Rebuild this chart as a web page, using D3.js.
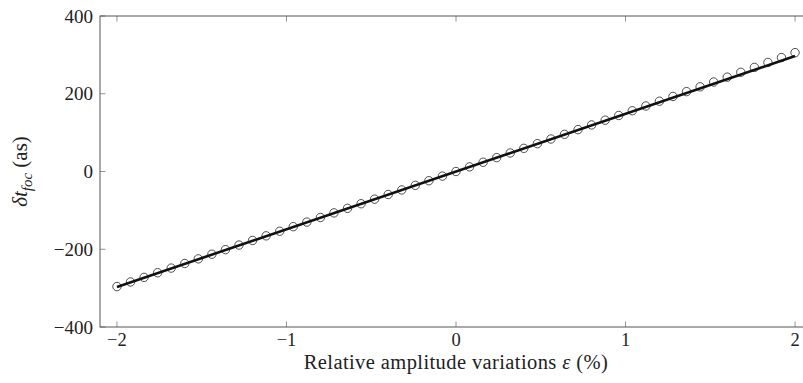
<!DOCTYPE html>
<html>
<head>
<meta charset="utf-8">
<script src="https://cdn.jsdelivr.net/npm/d3@7"></script>
<style>
  body { margin: 0; background: #fff; }
  text { font-family: "Liberation Serif", "DejaVu Serif", serif; fill: #222; }
</style>
</head>
<body>
<div id="chart"></div>
<script>
const rootWidth = 803;
const rootHeight = 383;
const margin = { top: 16, right: -9, bottom: 56, left: 100 };
const chartWidth = rootWidth - margin.left - margin.right;
const chartHeight = rootHeight - margin.top - margin.bottom;

// measured points
const epsValues = [
  -2.00, -1.92, -1.84, -1.76, -1.68, -1.60, -1.52, -1.44, -1.36, -1.28,
  -1.20, -1.12, -1.04, -0.96, -0.88, -0.80, -0.72, -0.64, -0.56, -0.48,
  -0.40, -0.32, -0.24, -0.16, -0.08, 0.00, 0.08, 0.16, 0.24, 0.32,
  0.40, 0.48, 0.56, 0.64, 0.72, 0.80, 0.88, 0.96, 1.04, 1.12,
  1.20, 1.28, 1.36, 1.44, 1.52, 1.60, 1.68, 1.76, 1.84, 1.92, 2.00
];
const dtValues = [
  -296, -284.2, -272.3, -260.4, -248.5, -236.6, -224.7, -212.8, -201.0, -189.2,
  -177.3, -165.5, -153.7, -141.9, -130.1, -118.3, -106.5, -94.7, -82.9, -71.1,
  -59.2, -47.4, -35.6, -23.7, -11.9, 0, 11.9, 23.8, 35.7, 47.7,
  59.6, 71.6, 83.6, 95.6, 107.7, 119.8, 132.0, 144.1, 156.3, 168.5,
  180.8, 193.1, 205.5, 217.8, 230.2, 242.7, 255.2, 267.8, 280.4, 293.1, 305.8
];
// linear fit
const fitEps = [-2, 2];
const fitDt = [-297, 297];

const xTicks = [-2, -1, 0, 1, 2];
const yTicks = [-400, -200, 0, 200, 400];

const root = d3
  .select("#chart")
  .append("svg")
  .attr("width", rootWidth)
  .attr("height", rootHeight);
const chart = root
  .append("g")
  .attr("transform", `translate(${margin.left}, ${margin.top})`);

const xScale = d3.scaleLinear().domain([-2.1, 2.1]).range([0, chartWidth]);
const yScale = d3.scaleLinear().domain([-400, 400]).range([chartHeight, 0]);
const fmt = d3.format("d");

// ticks (inside, mirrored)
const tickLen = 5.5;
chart
  .append("g")
  .selectAll("line")
  .data(xTicks)
  .join("line")
  .attr("x1", (d) => xScale(d))
  .attr("x2", (d) => xScale(d))
  .attr("y1", chartHeight)
  .attr("y2", chartHeight - tickLen)
  .attr("stroke", "#777")
  .attr("stroke-width", 0.8);
chart
  .append("g")
  .selectAll("line")
  .data(xTicks)
  .join("line")
  .attr("x1", (d) => xScale(d))
  .attr("x2", (d) => xScale(d))
  .attr("y1", 0)
  .attr("y2", tickLen)
  .attr("stroke", "#777")
  .attr("stroke-width", 0.8);
chart
  .append("g")
  .selectAll("line")
  .data(yTicks)
  .join("line")
  .attr("x1", 0)
  .attr("x2", tickLen)
  .attr("y1", (d) => yScale(d))
  .attr("y2", (d) => yScale(d))
  .attr("stroke", "#777")
  .attr("stroke-width", 0.8);

// markers
chart
  .append("g")
  .selectAll("circle")
  .data(epsValues)
  .join("circle")
  .attr("cx", (d) => xScale(d))
  .attr("cy", (d, i) => yScale(dtValues[i]))
  .attr("r", 4.2)
  .attr("fill", "none")
  .attr("stroke", "#222")
  .attr("stroke-width", 0.8);

// fit line
const line = d3
  .line()
  .x((d) => xScale(d))
  .y((d, i) => yScale(fitDt[i]));
chart
  .append("path")
  .datum(fitEps)
  .attr("d", line)
  .attr("fill", "none")
  .attr("stroke", "#111")
  .attr("stroke-width", 2.6);

// axis box
chart
  .append("rect")
  .attr("x", 0)
  .attr("y", 0)
  .attr("width", chartWidth)
  .attr("height", chartHeight)
  .attr("fill", "none")
  .attr("stroke", "#444")
  .attr("stroke-width", 0.9);

// tick labels
chart
  .append("g")
  .selectAll("text")
  .data(xTicks)
  .join("text")
  .attr("x", (d) => xScale(d))
  .attr("y", chartHeight + 19)
  .attr("text-anchor", "middle")
  .attr("font-size", 18.5)
  .text((d) => fmt(d));
chart
  .append("g")
  .selectAll("text")
  .data(yTicks)
  .join("text")
  .attr("x", -7)
  .attr("y", (d) => yScale(d) + 6.5)
  .attr("text-anchor", "end")
  .attr("font-size", 19)
  .text((d) => fmt(d));

// axis titles
chart
  .append("text")
  .attr("x", xScale(0))
  .attr("y", chartHeight + 41.5)
  .attr("text-anchor", "middle")
  .attr("font-size", 20.5)
  .attr("letter-spacing", 0.4)
  .html('Relative amplitude variations <tspan font-style="italic">ε</tspan> (%)');

chart
  .append("text")
  .attr("transform", `translate(${-73}, ${chartHeight / 2}) rotate(-90)`)
  .attr("text-anchor", "middle")
  .attr("font-size", 21)
  .html('<tspan font-style="italic">δt</tspan><tspan font-style="italic" font-size="15" dy="5">foc</tspan><tspan dy="-5"> (as)</tspan>');
</script>
</body>
</html>
